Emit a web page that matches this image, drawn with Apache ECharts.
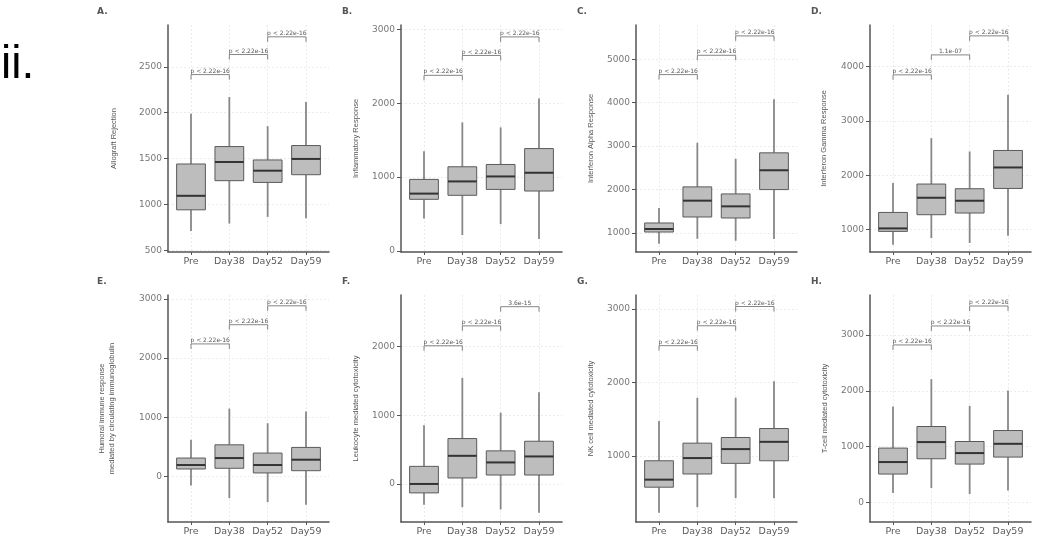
<!DOCTYPE html>
<html><head><meta charset="utf-8">
<script src="https://cdn.jsdelivr.net/npm/echarts@6/dist/echarts.min.js"></script>
<style>html,body{margin:0;padding:0;background:#fff}#c{width:1050px;height:537px}</style>
</head><body><div id="c"></div>
<script>
const categories = ['Pre', 'Day38', 'Day52', 'Day59'];
const panelLetters = ['A.', 'B.', 'C.', 'D.', 'E.', 'F.', 'G.', 'H.'];
const yTitles = ['Allograft Rejection', 'Inflammatory Response', 'Interferon Alpha Response', 'Interferon Gamma Response',
  'Humoral immune response\nmediated by circulating immunoglobulin', 'Leukocyte mediated cytotoxicity',
  'NK cell mediated cytotoxicity', 'T-cell mediated cytotoxicity'];
// box statistics per category: [lower whisker, Q1, median, Q3, upper whisker]
const allograftRejection = [[711, 941, 1094, 1441, 1989], [791, 1259, 1463, 1631, 2171], [864, 1240, 1368, 1485, 1853], [850, 1324, 1496, 1642, 2116]];
const inflammatoryResponse = [[440, 700, 777, 969, 1350], [216, 754, 942, 1140, 1740], [364, 834, 1009, 1171, 1673], [162, 812, 1059, 1386, 2063]];
const ifnAlphaResponse = [[753, 1023, 1092, 1231, 1577], [868, 1369, 1745, 2062, 3077], [822, 1346, 1614, 1900, 2708], [862, 2000, 2445, 2846, 4077]];
const ifnGammaResponse = [[724, 969, 1024, 1318, 1858], [847, 1276, 1588, 1840, 2685], [755, 1307, 1533, 1754, 2439], [890, 1759, 2145, 2458, 3481]];
const humoralResponse = [[-158, 123, 190, 308, 616], [-370, 135, 308, 532, 1145], [-438, 56, 190, 392, 897], [-483, 94, 280, 488, 1094]];
const leukocyteCytotox = [[-303, -130, 0, 256, 853], [-337, 87, 409, 660, 1542], [-371, 130, 313, 481, 1036], [-419, 130, 400, 621, 1334]];
const nkCellCytotox = [[224, 572, 675, 932, 1474], [301, 752, 969, 1172, 1791], [423, 897, 1091, 1249, 1791], [423, 932, 1190, 1371, 2016]];
const tCellCytotox = [[168, 508, 723, 973, 1717], [258, 782, 1081, 1360, 2208], [150, 687, 884, 1091, 1730], [215, 812, 1050, 1288, 2004]];
const panelStats = [allograftRejection, inflammatoryResponse, ifnAlphaResponse, ifnGammaResponse,
  humoralResponse, leukocyteCytotox, nkCellCytotox, tCellCytotox];
// pairwise comparison brackets
const bracketPairs = [[0, 1], [1, 2], [2, 3]];
const bracketHeights = [[2416, 2635, 2828], [2377, 2646, 2897], [4647, 5092, 5538], [3849, 4216, 4566],
  [2239, 2564, 2884], [2009, 2298, 2577], [2500, 2771, 3033], [2821, 3161, 3519]];
const pLabels = [
  ['p < 2.22e-16', 'p < 2.22e-16', 'p < 2.22e-16'], ['p < 2.22e-16', 'p < 2.22e-16', 'p < 2.22e-16'],
  ['p < 2.22e-16', 'p < 2.22e-16', 'p < 2.22e-16'], ['p < 2.22e-16', '1.1e-07', 'p < 2.22e-16'],
  ['p < 2.22e-16', 'p < 2.22e-16', 'p < 2.22e-16'], ['p < 2.22e-16', 'p < 2.22e-16', '3.6e-15'],
  ['p < 2.22e-16', 'p < 2.22e-16', 'p < 2.22e-16'], ['p < 2.22e-16', 'p < 2.22e-16', 'p < 2.22e-16']];
const yTicks = [[500, 1000, 1500, 2000, 2500], [0, 1000, 2000, 3000], [1000, 2000, 3000, 4000, 5000], [1000, 2000, 3000, 4000],
  [0, 1000, 2000, 3000], [0, 1000, 2000], [1000, 2000, 3000], [0, 1000, 2000, 3000]];
const yRanges = [[481, 2957], [-13, 3058], [563, 5789], [590, 4766], [-774, 3067], [-553, 2747], [98, 3190], [-351, 3716]];

const gridLefts = [168, 401, 636, 870];
const gridTops = [25, 295];
const gridHeights = [227, 228];
const gridWidth = 161;
const nameGaps = [49, 40, 40, 41, 51, 40, 40, 40];
const letterPos = [[97, 12], [342, 12], [577, 12], [811, 12], [97, 282], [342, 282], [577, 282], [811, 282]];

const AX = '#555';
const grid = [], xAxis = [], yAxis = [], series = [];
for (let i = 0; i < 8; i++) {
  const col = i % 4, row = Math.floor(i / 4);
  grid.push({left: gridLefts[col], top: gridTops[row], width: gridWidth, height: gridHeights[row]});
  xAxis.push({
    gridIndex: i, type: 'value', min: -0.6, max: 3.6,
    axisLine: {show: true, onZero: false, lineStyle: {color: AX, width: 1.5}},
    axisTick: {show: true, length: 3, lineStyle: {color: AX}, customValues: [0, 1, 2, 3]},
    axisLabel: {customValues: [0, 1, 2, 3], formatter: v => categories[Math.round(v)] || '',
      color: '#5a5a5a', fontSize: 9.5, fontFamily: 'DejaVu Sans', margin: 5},
    splitLine: {show: true, lineStyle: {color: '#e6e6e6', type: [2, 2], width: 0.8}}
  });
  yAxis.push({
    gridIndex: i, type: 'value', min: yRanges[i][0], max: yRanges[i][1],
    name: yTitles[i], nameLocation: 'middle', nameRotate: 90, nameGap: nameGaps[i],
    nameTextStyle: {color: '#555', fontSize: 7.5, fontFamily: 'Liberation Sans', lineHeight: 10},
    axisLine: {show: true, onZero: false, lineStyle: {color: AX, width: 1.5}},
    axisTick: {show: true, length: 4, lineStyle: {color: AX}, customValues: yTicks[i]},
    axisLabel: {customValues: yTicks[i], formatter: v => String(Math.round(v)),
      color: '#777', fontSize: 9, fontFamily: 'DejaVu Sans', margin: 6},
    splitLine: {show: true, lineStyle: {color: '#e6e6e6', type: [2, 2], width: 0.8}}
  });
  series.push({
    type: 'custom', xAxisIndex: i, yAxisIndex: i,
    data: panelStats[i].map((s, k) => [k].concat(s)),
    encode: {x: 0, y: [1, 2, 3, 4, 5]},
    renderItem: function (params, api) {
      const k = api.value(0);
      const lo = api.coord([k, api.value(1)]), q1 = api.coord([k, api.value(2)]),
        md = api.coord([k, api.value(3)]), q3 = api.coord([k, api.value(4)]), hi = api.coord([k, api.value(5)]);
      const hw = api.size([0.75, 0])[0] / 2;
      const cx = lo[0];
      return {type: 'group', children: [
        {type: 'line', shape: {x1: cx, y1: hi[1], x2: cx, y2: q3[1]}, style: {stroke: '#888', lineWidth: 1.8}},
        {type: 'line', shape: {x1: cx, y1: q1[1], x2: cx, y2: lo[1]}, style: {stroke: '#888', lineWidth: 1.8}},
        {type: 'rect', shape: {x: cx - hw, y: q3[1], width: 2 * hw, height: q1[1] - q3[1]},
          style: {fill: '#bdbdbd', stroke: '#5a5a5a', lineWidth: 1}},
        {type: 'line', shape: {x1: cx - hw, y1: md[1], x2: cx + hw, y2: md[1]}, style: {stroke: '#333', lineWidth: 2}}
      ]};
    }
  });
  series.push({
    type: 'custom', xAxisIndex: i, yAxisIndex: i, clip: false,
    data: bracketPairs.map((p, k) => [p[0], p[1], bracketHeights[i][k]]),
    encode: {x: [0, 1], y: 2},
    renderItem: (function (pi) {
      return function (params, api) {
        const a = api.coord([api.value(0), api.value(2)]);
        const b = api.coord([api.value(1), api.value(2)]);
        const drop = 5;
        return {type: 'group', children: [
          {type: 'polyline', shape: {points: [[a[0], a[1] + drop], [a[0], a[1]], [b[0], b[1]], [b[0], b[1] + drop]]},
            style: {stroke: '#666', lineWidth: 0.8, fill: null}},
          {type: 'text', style: {text: pLabels[pi][params.dataIndex], x: (a[0] + b[0]) / 2, y: a[1] - 0.5,
            align: 'center', verticalAlign: 'bottom', fontSize: 6, fontFamily: 'DejaVu Sans', fill: '#555'}}
        ]};
      };
    })(i)
  });
}
const graphic = [{type: 'text', left: 1, top: 42, style: {text: 'ii.', fontSize: 46, fontFamily: 'Liberation Sans', fill: '#000'}}];
panelLetters.forEach((t, i) => graphic.push({type: 'text', left: letterPos[i][0], top: letterPos[i][1] - 5,
  style: {text: t, fontSize: 9, fontWeight: 'bold', fontFamily: 'DejaVu Sans', fill: '#555'}}));

const chart = echarts.init(document.getElementById('c'), null, {renderer: 'canvas'});
chart.setOption({animation: false, backgroundColor: '#fff', grid, xAxis, yAxis, series, graphic});
</script></body></html>
